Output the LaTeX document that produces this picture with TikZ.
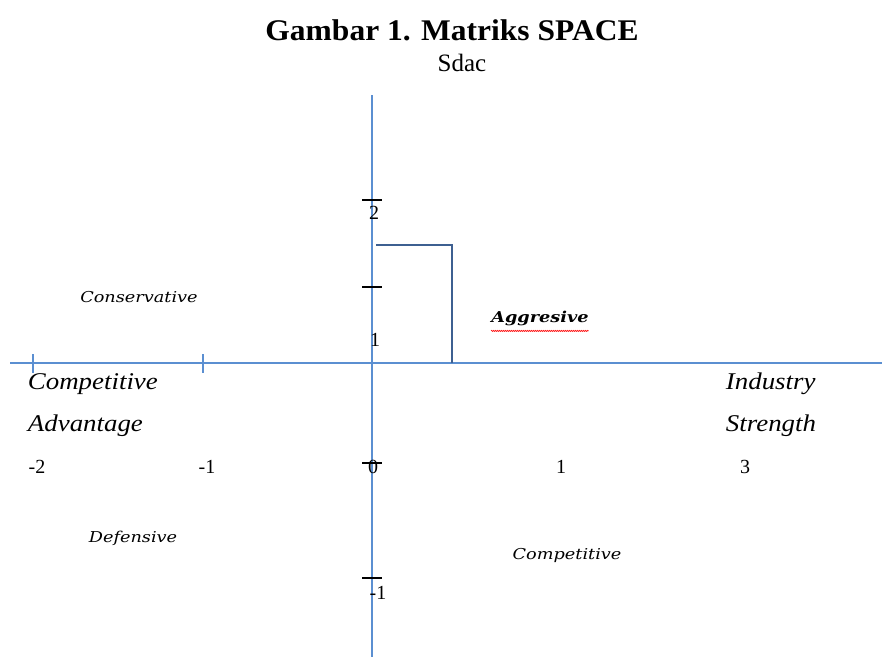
\documentclass[tikz,border=0pt]{standalone}
\usepackage{fontspec}
\setmainfont{Liberation Serif}
\newfontfamily\quadfont{DejaVu Serif}
\usetikzlibrary{decorations.pathmorphing}
\definecolor{axisblue}{RGB}{91,143,209}
\definecolor{boxblue}{RGB}{62,96,145}
\begin{document}
\begin{tikzpicture}[x=1pt,y=-1pt,
  axis/.style={draw=axisblue,line width=1.8pt},
  btick/.style={draw=black,line width=2.6pt},
  vtick/.style={draw=axisblue,line width=2.4pt},
  big/.style={font=\fontsize{24}{26}\selectfont\itshape,anchor=west,xscale=1.12},
  num/.style={font=\fontsize{20}{22}\selectfont},
  quad/.style={font=\quadfont\fontsize{15}{17}\selectfont\itshape,xscale=1.18}]
\useasboundingbox (0,0) rectangle (882,657);
\node[xscale=1.05] (title) at (452,30) {\fontsize{30}{32}\selectfont\bfseries Gambar 1. Matriks SPACE};
\node (sub) at (462,63) {\fontsize{25}{27}\selectfont Sdac};
% axes
\coordinate (vtop) at (372,95);
\coordinate (vbot) at (372,657);
\coordinate (hl) at (10,363);
\coordinate (hr) at (882,363);
\draw[axis] (vtop) -- (vbot);
\draw[axis] (hl) -- (hr);
% horizontal ticks
\coordinate (t1a) at (33,354); \coordinate (t1b) at (33,373);
\coordinate (t2a) at (203,354); \coordinate (t2b) at (203,373);
\draw[vtick] (t1a) -- (t1b);
\draw[vtick] (t2a) -- (t2b);
% vertical ticks
\coordinate (a1) at (362,200); \coordinate (b1) at (382,200);
\coordinate (a2) at (362,287); \coordinate (b2) at (382,287);
\coordinate (a3) at (362,463); \coordinate (b3) at (382,463);
\coordinate (a4) at (362,578); \coordinate (b4) at (382,578);
\draw[btick] (a1) -- (b1);
\draw[btick] (a2) -- (b2);
\draw[btick] (a3) -- (b3);
\draw[btick] (a4) -- (b4);
% box
\coordinate (r1) at (376,245); \coordinate (r2) at (452,245); \coordinate (r3) at (452,363);
\draw[draw=boxblue,line width=2.2pt] (r1) -- (r2) -- (r3);
% axis numbers
\node[num] (n2) at (374,213) {2};
\node[num] (n1) at (375,340) {1};
\node[num] (n0) at (373,467) {0};
\node[num] (nm1) at (378,593) {-1};
\node[num] (xm2) at (37,467) {-2};
\node[num] (xm1) at (207,467) {-1};
\node[num] (x1) at (561,467) {1};
\node[num] (x3) at (745,467) {3};
% axis titles
\node[big] (ca) at (24,384) {Competitive};
\node[big] (adv) at (24,426) {Advantage};
\node[big] (ind) at (722,384) {Industry};
\node[big] (str) at (722,426) {Strength};
% quadrants
\node[quad] (cons) at (139,297) {Conservative};
\node[quad,font=\quadfont\fontsize{15}{17}\selectfont\bfseries\itshape] (agg) at (540,318) {Aggresive};
\draw[red,line width=0.6pt,decorate,decoration={zigzag,amplitude=0.6pt,segment length=2pt}] ([xshift=4pt,yshift=-2pt]agg.south west) -- ([xshift=-4pt,yshift=-2pt]agg.south east);
\node[quad] (def) at (133,538) {Defensive};
\node[quad] (comp) at (567,555) {Competitive};
\end{tikzpicture}
\end{document}
